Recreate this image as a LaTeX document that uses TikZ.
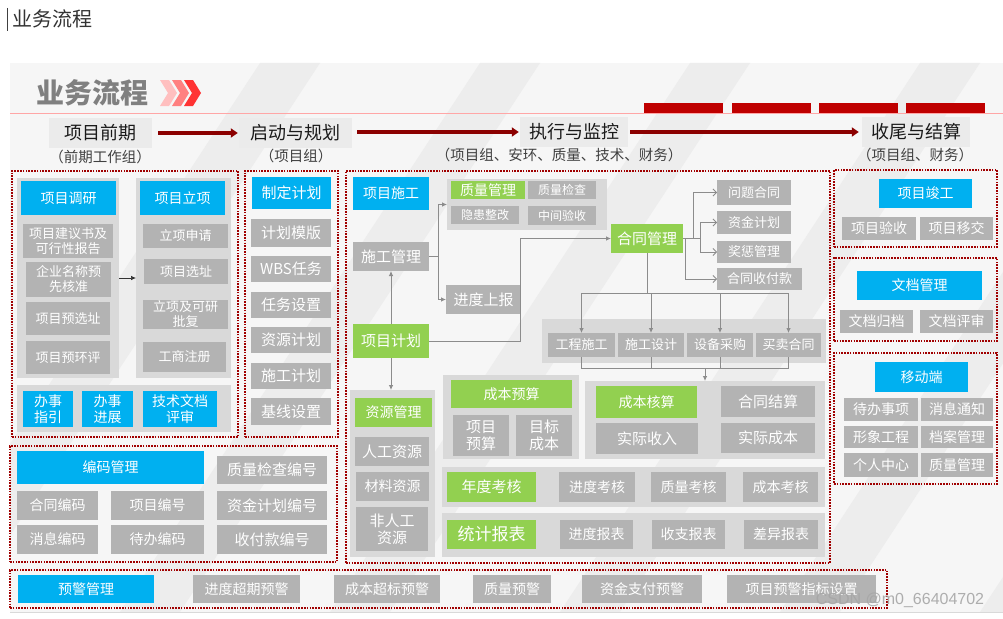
\documentclass[tikz,border=0pt]{standalone}
\usepackage{fontspec}
\setmainfont{Noto Sans CJK SC}
\newfontfamily\wmfont{Liberation Sans}
\usetikzlibrary{arrows.meta,calc}
\definecolor{cblue}{HTML}{00B0F0}
\definecolor{cgreen}{HTML}{92D050}
\definecolor{cgray}{HTML}{B3B3B3}
\definecolor{cpanel}{HTML}{D9D9D9}
\definecolor{cdot}{HTML}{A00000}
\definecolor{carrow}{HTML}{8B0000}
\definecolor{cline}{HTML}{8C8C8C}
\definecolor{cphase}{HTML}{EBEBEB}
\definecolor{ctext}{HTML}{1A1A1A}
\definecolor{cbg}{HTML}{F6F6F6}
\definecolor{cband}{HTML}{EDEDED}
\newcommand\mybox[7]{%
  \node[#1, minimum width={(#5)-(#3)}, minimum height={(#6)-(#4)}] (#2) at ({((#3)+(#5))/2},{((#4)+(#6))/2}) {#7};}
\tikzset{
 nbase/.style={inner sep=0pt, outer sep=0pt, align=center, text=white},
 bl/.style={nbase, fill=cblue, font=\fontsize{14}{16}\selectfont},
 gn/.style={nbase, fill=cgreen, font=\fontsize{14}{16}\selectfont},
 gy/.style={nbase, fill=cgray, font=\fontsize{13}{15}\selectfont},
 pnl/.style={inner sep=0pt, outer sep=0pt, fill=cpanel},
 dbox/.style={inner sep=0pt, outer sep=0pt, draw=cdot, line width=2.2pt, dash pattern=on 1.6pt off 1.2pt},
 conn/.style={draw=cline, line width=0.8pt},
 fa/.style={-{Latex[length=5pt,width=4.5pt]}},
 oa/.style={-{Straight Barb[length=3.5pt,width=7pt]}},
 bigf/.style={font=\fontsize{15}{17}\selectfont},
 midf/.style={font=\fontsize{14}{16}\selectfont},
 smlf/.style={font=\fontsize{12}{14}\selectfont},
 phase/.style={inner sep=0pt, fill=cphase, text=ctext, font=\fontsize{18}{20}\selectfont},
 sub/.style={inner sep=0pt, text=black!75, font=\fontsize{14.5}{16}\selectfont},
 parrow/.style={draw=carrow, line width=3.5pt, -{Triangle[length=7pt,width=9pt]}},
}
\begin{document}
\begin{tikzpicture}[x=1pt,y=-1pt]
\useasboundingbox (0,0) rectangle (1003,618);
\fill[white] (0,0) rectangle (1003,618);
% header
\draw[black!75, line width=0.8pt] (7,8) -- (7,31);
\node[anchor=west, inner sep=0pt, text=black!80, font=\fontsize{20}{22}\selectfont] (hdr) at (12,19) {业务流程};
% banner background
\fill[cbg] (10,63) rectangle (1003,612);
\begin{scope}
\clip (10,63) rectangle (1003,612);
\foreach \x in {-100,120,330,560,780,980}{
  \fill[cband] (\x,612) -- (\x+60,612) -- (\x+420,63) -- (\x+360,63) -- cycle;
}
\end{scope}
\draw[black!15, line width=1pt] (10,612) -- (1003,612);
% banner title
\node[anchor=west, inner sep=0pt, text=black!50, font=\fontsize{28}{30}\selectfont\bfseries] (btitle) at (36,93) {业务流程};
\fill[red!25] (160,80) -- (169,80) -- (177,93) -- (169,106) -- (160,106) -- (168,93) -- cycle;
\fill[red!50] (172,80) -- (181,80) -- (189,93) -- (181,106) -- (172,106) -- (180,93) -- cycle;
\fill[red!80] (184,80) -- (193,80) -- (201,93) -- (193,106) -- (184,106) -- (192,93) -- cycle;
\draw[red!35, line width=1pt] (10,113) -- (1003,113);
\fill[red!75!black] (644,103) rectangle (723,113);
\fill[red!75!black] (732,103) rectangle (811,113);
\fill[red!75!black] (819,103) rectangle (898,113);
\fill[red!75!black] (906,103) rectangle (985,113);
% phases
\mybox{phase}{p1}{49}{118}{152}{148}{项目前期}
\mybox{phase}{p2}{239}{118}{352}{148}{启动与规划}
\mybox{phase}{p3}{520}{117}{628}{147}{执行与监控}
\mybox{phase}{p4}{862}{117}{970}{147}{收尾与结算}
\node[sub] (s1) at (100,157) {（前期工作组）};
\node[sub] (s2) at (296,156) {（项目组）};
\node[sub] (s3) at (559,155) {（项目组、安环、质量、技术、财务）};
\node[sub] (s4) at (915,155) {（项目组、财务）};
\draw[parrow] ($(p1.east)+(6,0)$) -- ($(p2.west)+(-1,0)$);
\draw[parrow] ($(p2.east)+(5,-1)$) -- ($(p3.west)+(-1,0)$);
\draw[parrow] ($(p3.east)+(2,0)$) -- ($(p4.west)+(-3,0)$);

% ===== left block
\mybox{pnl}{pa1}{17}{178}{119}{378}{}
\mybox{pnl}{pa2}{136}{178}{231}{378}{}
\mybox{pnl}{pa3}{17}{385}{231}{432}{}
\mybox{bl}{xmdy}{21}{181}{116}{215}{项目调研}
\mybox{gy}{jys}{23}{224}{113}{258}{项目建议书及\\可行性报告}
\mybox{gy}{qymc}{26}{262}{111}{297}{企业名称预\\先核准}
\mybox{gy}{yxz}{26}{302}{110}{335}{项目预选址}
\mybox{gy}{yhp}{26}{341}{110}{374}{项目预环评}
\mybox{bl}{xmlx}{140}{181}{225}{215}{项目立项}
\mybox{gy}{lxsq}{143}{224}{228}{248}{立项申请}
\mybox{gy}{xmxz}{144}{259}{228}{284}{项目选址}
\mybox{gy}{lxpf}{143}{300}{228}{329}{立项及可研\\批复}
\mybox{gy}{gszc}{143}{342}{226}{372}{工商注册}
\draw[black!80, line width=0.7pt, -{Latex[length=5pt,width=4.5pt]}] (pa1.east) -- (pa2.west);
\mybox{bl}{bszy}{23}{391}{73}{427}{办事\\指引}
\mybox{bl}{bsjz}{82}{391}{133}{427}{办事\\进展}
\mybox{bl}{jswd}{143}{391}{217}{427}{技术文档\\评审}

% ===== plan block
\mybox{bl,bigf}{zdjh}{252}{177}{331}{209}{制定计划}
\mybox{gy,bigf}{jhmb}{251}{219}{331}{247}{计划模版}
\mybox{gy,bigf}{wbs}{251}{256}{331}{282}{WBS任务}
\mybox{gy,bigf}{rwsz}{251}{292}{331}{318}{任务设置}
\mybox{gy,bigf}{zyjh}{251}{327}{331}{353}{资源计划}
\mybox{gy,bigf}{sgjh}{251}{363}{331}{389}{施工计划}
\mybox{gy,bigf}{jxsz}{251}{398}{331}{425}{基线设置}

% ===== middle block
\mybox{bl}{xmsg}{353}{177}{429}{210}{项目施工}
\mybox{pnl}{pq}{447}{179}{607}{230}{}
\mybox{gn,midf}{zlgl}{451}{181}{525}{199}{质量管理}
\mybox{gy,smlf}{zljc}{528}{181}{596}{199}{质量检查}
\mybox{gy,smlf}{yhzg}{451}{206}{519}{224}{隐患整改}
\mybox{gy,smlf}{zjys}{528}{206}{596}{225}{中间验收}
\mybox{gy,bigf}{sggl}{353}{242}{429}{271}{施工管理}
\mybox{gy,bigf}{jdsb}{446}{285}{521}{314}{进度上报}
\mybox{gn,bigf}{xmjh}{353}{324}{429}{358}{项目计划}
\mybox{gn,bigf}{htgl}{611}{224}{683}{253}{合同管理}
\mybox{gy}{wtht}{717}{180}{791}{205}{问题合同}
\mybox{gy}{zjjh}{717}{211}{791}{234}{资金计划}
\mybox{gy}{jcgl}{717}{241}{791}{263}{奖惩管理}
\mybox{gy}{htsfk}{717}{268}{802}{290}{合同收付款}
\mybox{pnl}{pc}{542}{319}{826}{363}{}
\mybox{gy}{gcsg}{548}{333}{615}{357}{工程施工}
\mybox{gy}{sgsj}{618}{333}{684}{357}{施工设计}
\mybox{gy}{sbcg}{687}{333}{753}{357}{设备采购}
\mybox{gy}{mmht}{756}{333}{821}{357}{买卖合同}

\mybox{pnl}{pzy}{350}{390}{435}{557}{}
\mybox{gn,midf}{zygl}{355}{398}{432}{427}{资源管理}
\mybox{gy,bigf}{rgzy}{355}{437}{429}{466}{人工资源}
\mybox{gy,midf}{clzy}{356}{472}{429}{501}{材料资源}
\mybox{gy,bigf}{frg}{356}{507}{428}{551}{非人工\\资源}
\mybox{pnl}{pys}{443}{375}{579}{459}{}
\mybox{gn,midf}{cbys}{451}{380}{572}{408}{成本预算}
\mybox{gy,bigf}{xmys}{453}{415}{509}{456}{项目\\预算}
\mybox{gy,bigf}{mbcb}{516}{415}{572}{456}{目标\\成本}
\mybox{pnl}{phs}{585}{381}{825}{459}{}
\mybox{gn,midf}{cbhs}{596}{386}{697}{418}{成本核算}
\mybox{gy,bigf}{htjs}{721}{386}{815}{417}{合同结算}
\mybox{gy,bigf}{sjsr}{596}{423}{698}{454}{实际收入}
\mybox{gy,bigf}{sjcb}{721}{423}{815}{453}{实际成本}
\mybox{pnl}{pkh}{442}{467}{825}{507}{}
\mybox{gn,bigf}{ndkh}{447}{472}{536}{502}{年度考核}
\mybox{gy,midf}{jdkh}{559}{472}{635}{502}{进度考核}
\mybox{gy,midf}{zlkh}{651}{472}{726}{502}{质量考核}
\mybox{gy,midf}{cbkh}{743}{472}{818}{502}{成本考核}
\mybox{pnl}{pbb}{442}{513}{825}{557}{}
\mybox{gn,font=\fontsize{17}{19}\selectfont}{tjbb}{447}{520}{536}{549}{统计报表}
\mybox{gy,midf}{jdbb}{560}{520}{633}{549}{进度报表}
\mybox{gy,midf}{szbb}{652}{520}{725}{549}{收支报表}
\mybox{gy,midf}{cybb}{744}{520}{818}{549}{差异报表}

% connectors middle
\draw[conn,fa] (xmjh.north) -- (sggl.south);
\draw[conn,fa] (xmjh.south) -- (xmjh.south |- pzy.north);
\draw[conn,fa] (sggl.east) -- ++(9,0) |- (pq.west);
\draw[conn,fa] (sggl.east) -- ++(9,0) |- (jdsb.west);
\draw[conn,fa] (xmjh.east) -- ++(91,0) |- (htgl.west);
\draw[conn,oa] (htgl.east) -- ++(10,0) |- (wtht.west);
\draw[conn,oa] (htgl.east) -- ++(17,0) |- (zjjh.west);
\draw[conn,oa] (htgl.east) -- ++(17,0) |- (jcgl.west);
\draw[conn,oa] (htgl.east) -- ++(2,0) |- (htsfk.west);
\draw[conn,fa] (htgl.south) -- ++(0,40) -| (gcsg.north);
\draw[conn,fa] (htgl.south) -- ++(0,40) -| (sgsj.north);
\draw[conn,fa] (htgl.south) -- ++(0,40) -| (sbcg.north);
\draw[conn,fa] (htgl.south) -- ++(0,40) -| (mmht.north);
\draw[conn] (gcsg.south) -- ++(0,11) -| (mmht.south);
\draw[conn] (sgsj.south) -- ++(0,11);
\draw[conn] (sbcg.south) -- ++(0,11);
\draw[conn,fa] ($(phs.north)+(0,-13)$) -- (phs.north);

% ===== right blocks
\mybox{bl,midf}{xmjg}{879}{179}{972}{208}{项目竣工}
\mybox{gy,midf}{xmys2}{842}{217}{916}{240}{项目验收}
\mybox{gy,midf}{xmyj}{920}{217}{993}{240}{项目移交}
\mybox{bl,midf}{wdgl}{857}{271}{982}{300}{文档管理}
\mybox{gy,midf}{wdgd}{840}{310}{913}{333}{文档归档}
\mybox{gy,midf}{wdps}{920}{310}{993}{333}{文档评审}
\mybox{bl,midf}{ydd}{875}{362}{968}{392}{移动端}
\mybox{gy,midf}{dbsx}{844}{398}{918}{421}{待办事项}
\mybox{gy,midf}{xxtz}{921}{398}{993}{421}{消息通知}
\mybox{gy,midf}{xxgc}{844}{426}{918}{448}{形象工程}
\mybox{gy,midf}{dagl}{921}{426}{993}{448}{档案管理}
\mybox{gy,midf}{grzx}{844}{453}{918}{477}{个人中心}
\mybox{gy,midf}{zlgl2}{921}{453}{993}{477}{质量管理}

% ===== coding block
\mybox{bl}{bmgl}{17}{451}{204}{484}{编码管理}
\mybox{gy,bigf}{zljcbh}{217}{456}{327}{484}{质量检查编号}
\mybox{gy,midf}{htbm}{17}{491}{98}{520}{合同编码}
\mybox{gy,midf}{xmbh}{111}{491}{204}{520}{项目编号}
\mybox{gy,bigf}{zjjhbh}{217}{491}{327}{520}{资金计划编号}
\mybox{gy,midf}{xxbm}{17}{525}{98}{554}{消息编码}
\mybox{gy,midf}{dbbm}{111}{525}{204}{554}{待办编码}
\mybox{gy,bigf}{sfkbh}{217}{525}{327}{554}{收付款编号}

% ===== warning block
\mybox{bl,midf}{yjgl}{18}{575}{154}{603}{预警管理}
\mybox{gy,midf}{jdcq}{193}{575}{300}{603}{进度超期预警}
\mybox{gy,midf}{cbcb}{334}{575}{440}{603}{成本超标预警}
\mybox{gy,midf}{zlyj}{473}{575}{551}{603}{质量预警}
\mybox{gy,midf}{zjzf}{582}{575}{702}{603}{资金支付预警}
\mybox{gy,midf}{yjzb}{727}{575}{876}{603}{项目预警指标设置}

% ===== dotted frames
\mybox{dbox}{d1}{12}{171}{238}{437}{}
\mybox{dbox}{d2}{245}{171}{338}{437}{}
\mybox{dbox}{d3}{346}{171}{830}{563}{}
\mybox{dbox}{d4}{834}{170}{997}{247}{}
\mybox{dbox}{d5}{834}{258}{997}{341}{}
\mybox{dbox}{d6}{834}{353}{997}{484}{}
\mybox{dbox}{d7}{10}{446}{337}{562}{}
\mybox{dbox}{d8}{10}{570}{887}{608}{}

% watermark
\node[inner sep=0pt, text=black!35, opacity=0.9, font=\wmfont\fontsize{16}{18}\selectfont] (wm) at (900,600) {CSDN @m0\_66404702};
\end{tikzpicture}
\end{document}
